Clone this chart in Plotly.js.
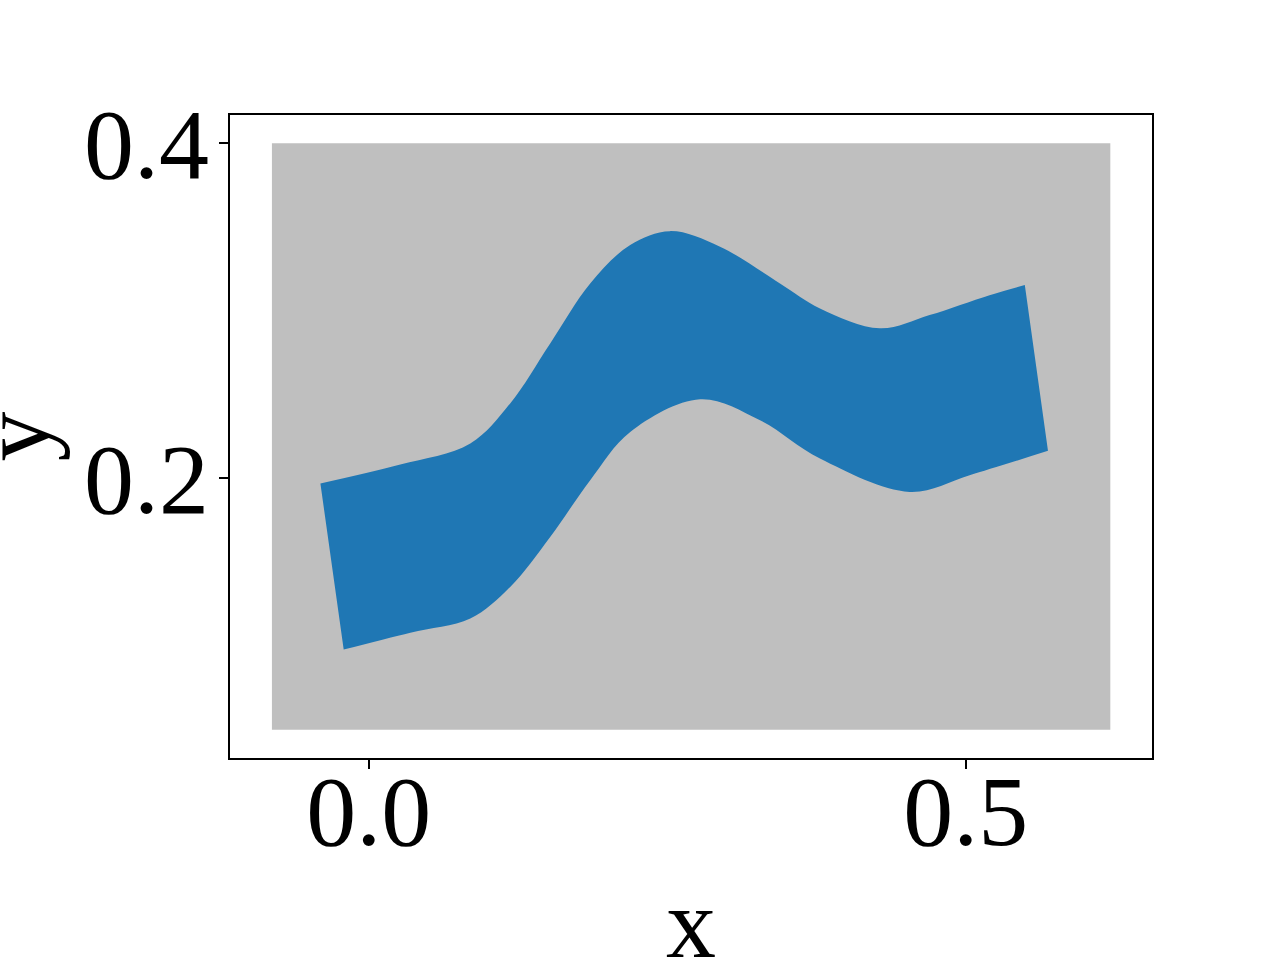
<!DOCTYPE html>
<html>
<head>
<meta charset="utf-8">
<script src="https://cdn.plot.ly/plotly-3.0.1.min.js"></script>
<style>
  html, body { margin: 0; padding: 0; background: #fff; }
  #chart { width: 1280px; height: 960px; }
</style>
</head>
<body>
<div id="chart"></div>
<script>
// background rectangle (data extent)
const bgX = [-0.081, 0.621, 0.621, -0.081, -0.081];
const bgY = [0.05, 0.05, 0.4, 0.4, 0.05];

// upper edge of the band, left to right
const upperX = [-0.0404, 0.0265, 0.0851, 0.1185, 0.1520, 0.1855, 0.2190, 0.2524, 0.2942, 0.3444, 0.3779,
  0.4281, 0.4697, 0.5199, 0.5494];
const upperY = [0.1970, 0.2083, 0.2209, 0.2448, 0.2806, 0.3164, 0.3393, 0.3476, 0.3383, 0.3164, 0.3015,
  0.2896, 0.2975, 0.3094, 0.3154];

// lower edge of the band, left to right
const lowerX = [-0.0209, 0.0349, 0.0851, 0.1185, 0.1520, 0.1855, 0.2190, 0.2775, 0.3277, 0.3779, 0.4530,
  0.5032, 0.5688];
const lowerY = [0.0979, 0.1080, 0.1164, 0.1353, 0.1651, 0.1990, 0.2278, 0.2473, 0.2348, 0.2119, 0.1920,
  0.2020, 0.2165];

const xTicks = [0, 0.5];
const yTicks = [0.2, 0.4];

const serif = 'Liberation Serif, Times New Roman, serif';

const bg = {
  x: bgX, y: bgY,
  type: 'scatter', mode: 'lines',
  fill: 'toself', fillcolor: '#bfbfbf',
  line: { width: 0 },
  hoverinfo: 'skip', showlegend: false
};

const lower = {
  x: lowerX, y: lowerY,
  type: 'scatter', mode: 'lines',
  line: { width: 0, shape: 'spline', smoothing: 1, color: '#1f77b4' },
  showlegend: false
};

const upper = {
  x: upperX, y: upperY,
  type: 'scatter', mode: 'lines',
  fill: 'tonexty', fillcolor: '#1f77b4',
  line: { width: 0, shape: 'spline', smoothing: 1, color: '#1f77b4' },
  showlegend: false
};

const layout = {
  width: 1280, height: 960,
  margin: { l: 230, r: 128, t: 115, b: 202 },
  paper_bgcolor: '#fff', plot_bgcolor: '#fff',
  font: { family: serif, size: 100, color: '#000' },
  showlegend: false,
  xaxis: {
    range: [-0.1161, 0.6559],
    tickvals: xTicks, tickformat: '.1f',
    ticks: 'outside', ticklen: 9, tickwidth: 2, tickcolor: '#000',
    ticklabelstandoff: -44,
    showline: true, mirror: true, linecolor: '#000', linewidth: 2,
    showgrid: false, zeroline: false,
    tickfont: { family: serif, size: 100, color: '#000' }
  },
  yaxis: {
    range: [0.0332, 0.4169],
    tickvals: yTicks, tickformat: '.1f',
    ticks: 'outside', ticklen: 9, tickwidth: 2, tickcolor: '#000',
    ticklabelstandoff: -10,
    showline: true, mirror: true, linecolor: '#000', linewidth: 2,
    showgrid: false, zeroline: false,
    tickfont: { family: serif, size: 100, color: '#000' }
  },
  annotations: [
    { text: 'x', xref: 'paper', yref: 'paper', x: 0.5, y: 0, xanchor: 'center', yanchor: 'middle',
      yshift: -165, showarrow: false, font: { family: serif, size: 100, color: '#000' } },
    { text: 'y', xref: 'paper', yref: 'paper', x: 0, y: 0.5, xanchor: 'center', yanchor: 'middle',
      xshift: -215, textangle: -90, showarrow: false, font: { family: serif, size: 100, color: '#000' } }
  ]
};

Plotly.newPlot('chart', [bg, lower, upper], layout, { displayModeBar: false, staticPlot: true });
</script>
</body>
</html>
